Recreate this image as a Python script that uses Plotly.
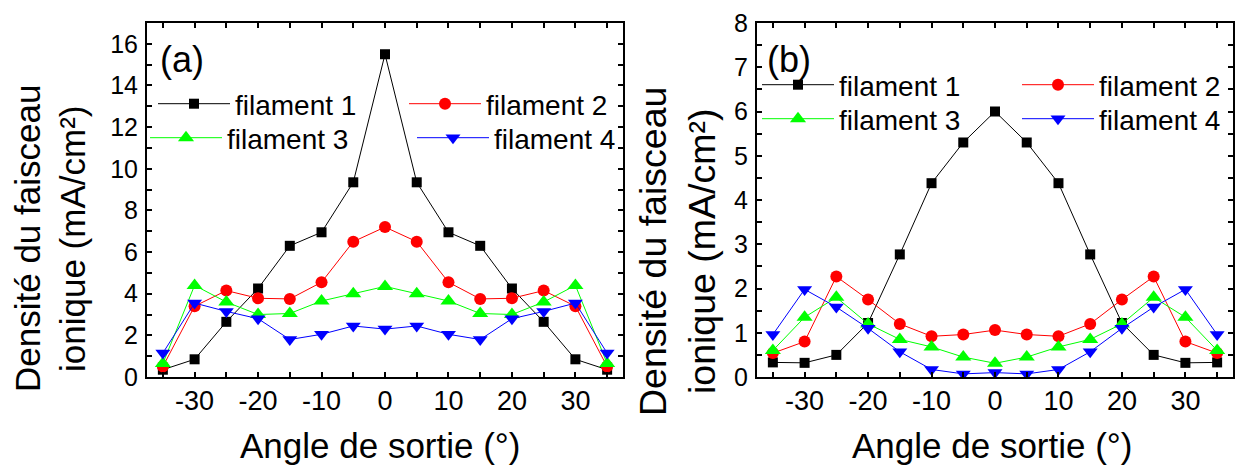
import plotly.graph_objects as go

# ---------------- data ----------------
angles = [-35, -30, -25, -20, -15, -10, -5, 0, 5, 10, 15, 20, 25, 30, 35]
series_names = ["filament 1", "filament 2", "filament 3", "filament 4"]

a_fil1 = [0.35, 0.85, 2.65, 4.25, 6.3, 6.95, 9.35, 15.5, 9.35, 6.95, 6.3, 4.25, 2.65, 0.85, 0.35]
a_fil2 = [0.5, 3.4, 4.15, 3.78, 3.75, 4.55, 6.5, 7.2, 6.5, 4.55, 3.75, 3.78, 4.15, 3.4, 0.5]
a_fil3 = [0.65, 4.4, 3.6, 3.0, 3.05, 3.65, 4.0, 4.35, 4.0, 3.65, 3.05, 3.0, 3.6, 4.4, 0.65]
a_fil4 = [1.15, 3.55, 3.15, 2.8, 1.8, 2.05, 2.45, 2.3, 2.45, 2.05, 1.8, 2.8, 3.15, 3.55, 1.15]

b_fil1 = [0.33, 0.32, 0.5, 1.22, 2.77, 4.38, 5.3, 6.0, 5.3, 4.38, 2.77, 1.22, 0.5, 0.32, 0.33]
b_fil2 = [0.54, 0.8, 2.27, 1.75, 1.2, 0.92, 0.96, 1.06, 0.96, 0.92, 1.2, 1.75, 2.27, 0.8, 0.54]
b_fil3 = [0.6, 1.35, 1.8, 1.2, 0.85, 0.68, 0.45, 0.31, 0.45, 0.68, 0.85, 1.2, 1.8, 1.35, 0.6]
b_fil4 = [0.96, 1.98, 1.58, 1.1, 0.57, 0.17, 0.07, 0.1, 0.07, 0.17, 0.57, 1.1, 1.58, 1.98, 0.96]

x_ticks = [-30, -20, -10, 0, 10, 20, 30]
x_tick_labels = ["-30", "-20", "-10", "0", "10", "20", "30"]
a_y_ticks = [0, 2, 4, 6, 8, 10, 12, 14, 16]
b_y_ticks = [0, 1, 2, 3, 4, 5, 6, 7, 8]

panel_labels = ["(a)", "(b)"]
x_title = "Angle de sortie (°)"
y_title_lines = ["Densité du faisceau", "ionique (mA/cm²)"]

# ---------------- styles ----------------
FONT = "Arial, 'Liberation Sans', sans-serif"
colors = ["#000000", "#ff0000", "#00ff00", "#0000ff"]
symbols = ["square", "circle", "triangle-up", "triangle-down"]
msizes = [10, 12, 14, 13]
W, H = 1236, 468

def px(x):
    return x / W

def py(y):
    return 1 - y / H

fig = go.Figure()

panel_a = [a_fil1, a_fil2, a_fil3, a_fil4]
panel_b = [b_fil1, b_fil2, b_fil3, b_fil4]
legends_a = ["legend", "legend", "legend2", "legend2"]
legends_b = ["legend3", "legend3", "legend4", "legend4"]
entry_a = [164, 120, 180, 120]
entry_b = [173, 120, 173, 120]

for i, ys in enumerate(panel_a):
    fig.add_trace(go.Scatter(
        x=angles, y=ys, name=series_names[i], mode="lines+markers",
        xaxis="x", yaxis="y", legend=legends_a[i], legendwidth=entry_a[i],
        line=dict(color=colors[i], width=1),
        marker=dict(symbol=symbols[i], size=msizes[i], color=colors[i], line=dict(width=0)),
    ))
for i, ys in enumerate(panel_b):
    fig.add_trace(go.Scatter(
        x=angles, y=ys, name=series_names[i], mode="lines+markers",
        xaxis="x2", yaxis="y2", legend=legends_b[i], legendwidth=entry_b[i],
        line=dict(color=colors[i], width=1),
        marker=dict(symbol=symbols[i], size=msizes[i], color=colors[i], line=dict(width=0)),
    ))

axis_common = dict(
    showline=True, linecolor="black", linewidth=2, mirror="allticks",
    ticks="inside", ticklen=5, tickwidth=1.5, tickcolor="black",
    showgrid=False, zeroline=False, automargin=False,
)
xaxis_common = dict(axis_common, range=[-37.5, 37.5], tickvals=x_ticks, ticktext=x_tick_labels,
                    tickfont=dict(family=FONT, size=27, color="black"), ticklabelstandoff=-1,
                    minor=dict(dtick=5, tick0=0, ticks="inside", ticklen=5, tickcolor="black", tickwidth=1.5))

dom_y = [py(377), py(23)]
fig.update_layout(
    template="none",
    width=W, height=H,
    margin=dict(l=0, r=0, t=0, b=0, autoexpand=False),
    paper_bgcolor="white", plot_bgcolor="white",
    font=dict(family=FONT, color="black"),
    xaxis=dict(xaxis_common, domain=[px(147), px(623)], anchor="y"),
    yaxis=dict(axis_common, domain=dom_y, anchor="x", range=[0, 17], tickvals=a_y_ticks,
               tickfont=dict(family=FONT, size=25, color="black"), ticklabelstandoff=2,
               minor=dict(dtick=1, tick0=0, ticks="inside", ticklen=5, tickcolor="black", tickwidth=1.5)),
    xaxis2=dict(xaxis_common, domain=[px(757), px(1233)], anchor="y2"),
    yaxis2=dict(axis_common, domain=dom_y, anchor="x2", range=[0, 8], tickvals=b_y_ticks,
                tickfont=dict(family=FONT, size=25, color="black"), ticklabelstandoff=2,
                minor=dict(dtick=0.5, tick0=0, ticks="inside", ticklen=5, tickcolor="black", tickwidth=1.5)),
)

leg_common = dict(orientation="h", bgcolor="rgba(0,0,0,0)", borderwidth=0,
                  font=dict(family=FONT, size=28, color="black"),
                  itemwidth=72, xanchor="left", yanchor="middle",
                  entrywidthmode="pixels", tracegroupgap=0)
fig.update_layout(
    legend=dict(leg_common, x=px(153), y=py(104)),
    legend2=dict(leg_common, x=px(145), y=py(138)),
    legend3=dict(leg_common, x=px(757), y=py(85)),
    legend4=dict(leg_common, x=px(757), y=py(119)),
)

ann = []
# panel labels
ann.append(dict(text=panel_labels[0], x=px(158), y=py(59), xref="paper", yref="paper",
                xanchor="left", yanchor="middle", showarrow=False,
                font=dict(family=FONT, size=36, color="black")))
ann.append(dict(text=panel_labels[1], x=px(765), y=py(59), xref="paper", yref="paper",
                xanchor="left", yanchor="middle", showarrow=False,
                font=dict(family=FONT, size=36, color="black")))
# x titles
for cx in (381, 992):
    ann.append(dict(text=x_title, x=px(cx), y=py(445), xref="paper", yref="paper",
                    xanchor="center", yanchor="middle", showarrow=False,
                    font=dict(family=FONT, size=35, color="black")))
# y titles
for (cx1, cx2, cy, fs) in ((28, 73, 239, 35), (653, 702, 252, 37.5)):
    ann.append(dict(text=y_title_lines[0], x=px(cx1), y=py(cy), xref="paper", yref="paper",
                    xanchor="center", yanchor="middle", textangle=-90, showarrow=False,
                    font=dict(family=FONT, size=fs, color="black")))
    ann.append(dict(text=y_title_lines[1], x=px(cx2), y=py(cy), xref="paper", yref="paper",
                    xanchor="center", yanchor="middle", textangle=-90, showarrow=False,
                    font=dict(family=FONT, size=fs, color="black")))
fig.update_layout(annotations=ann)

fig.write_html("out.html", config={"displayModeBar": False},
               post_script="document.body.style.margin='0';document.body.style.overflow='hidden';")
